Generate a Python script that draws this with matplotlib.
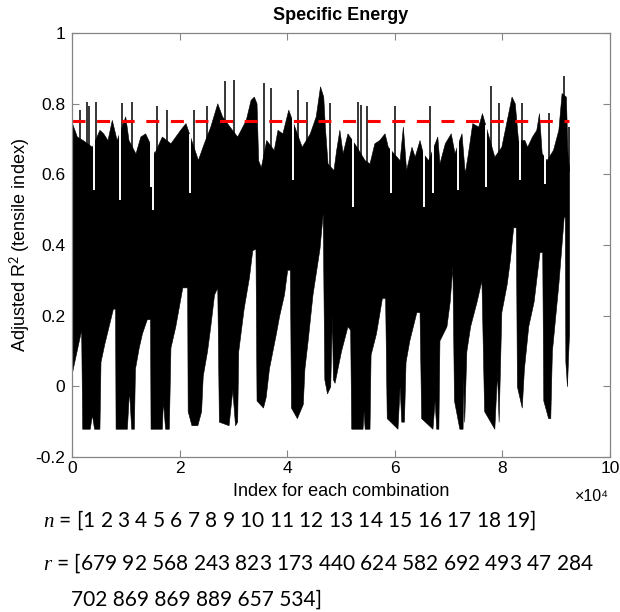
import numpy as np
import matplotlib
matplotlib.use("Agg")
import matplotlib.pyplot as plt
from matplotlib.ticker import FuncFormatter

plt.rcParams['font.family'] = ['Liberation Sans', 'DejaVu Sans']
plt.rcParams['mathtext.fontset'] = 'custom'
plt.rcParams['mathtext.it'] = 'Liberation Serif:italic'
plt.rcParams['mathtext.rm'] = 'Lato'

# index positions below are in units of 1e4 combinations
# upper edge of the dense band (spikes and slits kept apart)
upper_x = [0.00, 0.09, 0.20, 0.37, 0.51, 0.58, 0.66, 0.74, 0.83, 0.99, 1.05, 1.18,
           1.27, 1.36, 1.44, 1.53, 1.67, 1.83, 1.92, 2.01, 2.11, 2.34, 2.45, 2.57,
           2.70, 2.79, 2.93, 3.07, 3.23, 3.32, 3.38, 3.43, 3.46, 3.51, 3.61, 3.75,
           3.82, 3.91, 4.02, 4.27, 4.42, 4.53, 4.61, 4.67, 4.70, 4.75, 4.86, 4.91,
           4.97, 5.03, 5.12, 5.28, 5.44, 5.53, 5.62, 5.71, 5.81, 5.87, 6.09, 6.15,
           6.21, 6.31, 6.37, 6.46, 6.52, 6.62, 6.79, 6.83, 6.93, 7.04, 7.11, 7.24,
           7.30, 7.36, 7.44, 7.55, 7.62, 7.85, 7.98, 8.07, 8.17, 8.23, 8.29, 8.41,
           8.46, 8.55, 8.63, 8.68, 8.73, 8.82, 8.94, 9.04, 9.10, 9.18, 9.21, 9.24]
upper_y = [0.745, 0.707, 0.697, 0.678, 0.726, 0.716, 0.697, 0.754, 0.697, 0.764, 0.697, 0.659,
           0.707, 0.716, 0.690, 0.660, 0.707, 0.688, 0.707, 0.726, 0.745, 0.641, 0.688, 0.735,
           0.801, 0.764, 0.735, 0.707, 0.754, 0.811, 0.820, 0.801, 0.640, 0.620, 0.697, 0.669,
           0.726, 0.716, 0.783, 0.678, 0.716, 0.764, 0.849, 0.820, 0.735, 0.631, 0.612, 0.669,
           0.726, 0.660, 0.716, 0.680, 0.640, 0.631, 0.688, 0.697, 0.716, 0.678, 0.640, 0.735,
           0.612, 0.678, 0.650, 0.697, 0.660, 0.640, 0.707, 0.631, 0.688, 0.716, 0.660, 0.716,
           0.603, 0.660, 0.745, 0.735, 0.773, 0.650, 0.678, 0.745, 0.820, 0.801, 0.697, 0.697,
           0.678, 0.707, 0.726, 0.773, 0.660, 0.640, 0.669, 0.726, 0.830, 0.820, 0.660, 0.612]

# thin spikes sticking out of the band
spike_x = [0.14, 0.27, 0.32, 0.45, 0.93, 1.11, 1.58, 1.77, 2.26, 2.51, 2.85, 3.01, 3.56, 3.70,
           4.20, 4.37, 4.80, 5.31, 5.37, 5.48, 6.01, 6.65, 7.78, 7.94, 8.36, 8.87, 9.15, 9.23]
spike_top = [0.783, 0.806, 0.792, 0.806, 0.801, 0.806, 0.792, 0.783, 0.783, 0.792, 0.863, 0.868,
             0.858, 0.844, 0.839, 0.806, 0.801, 0.806, 0.796, 0.792, 0.792, 0.792, 0.849, 0.801,
             0.801, 0.773, 0.877, 0.735]

# narrow white slits cutting down into the band
dip_x = [0.40, 0.90, 1.46, 1.50, 2.20, 4.10, 5.22, 5.93, 6.55, 6.71, 7.18, 7.70, 8.33, 8.79]
dip_bottom = [0.555, 0.527, 0.565, 0.499, 0.546, 0.583, 0.508, 0.546, 0.508, 0.546, 0.555,
              0.565, 0.583, 0.574]

# lower edge of the band (sawtooth)
lower_x = [0.00, 0.17, 0.19, 0.33, 0.37, 0.41, 0.51, 0.53, 0.60, 0.68, 0.76, 0.80, 0.81, 1.02,
           1.06, 1.10, 1.15, 1.17, 1.24, 1.30, 1.39, 1.45, 1.46, 1.67, 1.69, 1.73, 1.80, 1.83,
           1.92, 2.05, 2.14, 2.15, 2.22, 2.33, 2.40, 2.43, 2.51, 2.57, 2.64, 2.70, 2.73, 2.91,
           2.98, 3.03, 3.07, 3.09, 3.19, 3.29, 3.35, 3.41, 3.43, 3.55, 3.60, 3.66, 3.79, 3.85,
           3.94, 4.00, 4.05, 4.07, 4.18, 4.29, 4.32, 4.38, 4.47, 4.60, 4.66, 4.69, 4.74, 4.80,
           4.83, 4.85, 4.88, 5.00, 5.12, 5.17, 5.19, 5.40, 5.42, 5.44, 5.53, 5.55, 5.65, 5.76,
           5.82, 5.85, 6.05, 6.09, 6.12, 6.17, 6.20, 6.27, 6.40, 6.46, 6.49, 6.70, 6.74, 6.77,
           6.81, 6.83, 6.96, 7.02, 7.07, 7.10, 7.20, 7.26, 7.27, 7.29, 7.33, 7.40, 7.52, 7.61,
           7.66, 7.85, 7.90, 7.93, 7.98, 8.08, 8.14, 8.20, 8.25, 8.27, 8.36, 8.40, 8.48, 8.58,
           8.69, 8.74, 8.76, 8.85, 8.89, 8.92, 9.04, 9.14, 9.16, 9.17, 9.20, 9.23, 9.24]
lower_y = [0.04, 0.16, -0.12, -0.12, -0.08, -0.12, -0.12, 0.07, 0.12, 0.17, 0.22, 0.22, -0.12, -0.12,
           -0.01, -0.12, -0.12, 0.05, 0.11, 0.15, 0.19, 0.19, -0.12, -0.12, -0.04, -0.12, -0.12, 0.11,
           0.17, 0.28, 0.28, -0.07, -0.11, -0.11, -0.07, 0.03, 0.10, 0.17, 0.26, 0.28, -0.10, -0.11,
           -0.01, -0.11, -0.10, 0.10, 0.22, 0.31, 0.385, 0.39, -0.04, -0.06, -0.03, 0.05, 0.15, 0.20,
           0.26, 0.33, 0.33, -0.06, -0.09, -0.05, 0.05, 0.13, 0.26, 0.39, 0.49, 0.02, -0.02, 0.00,
           0.20, 0.02, 0.01, 0.10, 0.17, 0.16, -0.12, -0.12, -0.07, -0.12, -0.12, 0.09, 0.15, 0.25,
           0.25, -0.09, -0.12, 0.00, -0.10, -0.10, 0.07, 0.13, 0.21, 0.21, -0.09, -0.12, -0.04, -0.12,
           -0.12, 0.13, 0.17, 0.24, 0.34, -0.04, -0.12, -0.12, 0.03, -0.10, 0.10, 0.17, 0.24, 0.30,
           -0.07, -0.12, 0.04, -0.10, 0.21, 0.29, 0.36, 0.45, 0.45, 0.00, -0.06, 0.05, 0.17, 0.24,
           0.38, 0.38, -0.04, -0.09, -0.09, 0.10, 0.29, 0.48, 0.48, 0.07, 0.00, 0.12, 0.15]

threshold = 0.75
n_combos = 92378

n_vals = list(range(1, 20))
r_vals = [679, 92, 568, 243, 823, 173, 440, 624, 582, 692, 493, 47, 284,
          702, 869, 869, 889, 657, 534]

fig = plt.figure(figsize=(6.2, 6.12), dpi=100)
ax = fig.add_axes([72 / 620, 1 - 457 / 612, 538 / 620, 424 / 612])

scale = 1e4
ux = np.array(upper_x) * scale
lx = np.array(lower_x) * scale
uy = np.array(upper_y)
ly = np.array(lower_y)

# common index grid for both edges of the band
grid = np.union1d(ux, lx)
top = np.interp(grid, ux, uy)
bot = np.interp(grid, lx, ly)
ax.fill_between(grid, bot, top, facecolor='black', edgecolor='black', lw=0.4, zorder=2)

sx = np.array(spike_x) * scale
ax.vlines(sx, np.interp(sx, ux, uy) - 0.02, spike_top, colors='black', lw=1.1, zorder=2)

dx = np.array(dip_x) * scale
ax.vlines(dx, dip_bottom, np.interp(dx, ux, uy) + 0.01, colors='white', lw=1.4, zorder=2.5)

ax.hlines(threshold, 0, n_combos, colors='red', linestyles=(0, (4.25, 3.8)),
          lw=2.2, zorder=3)

ax.set_xlim(0, 10 * scale)
ax.set_ylim(-0.2, 1)
ax.set_xticks(np.arange(0, 11, 2) * scale)
ax.set_yticks(np.round(np.arange(-0.2, 1.01, 0.2), 1))
ax.xaxis.set_major_formatter(FuncFormatter(lambda v, p: '%g' % (v / scale)))
ax.yaxis.set_major_formatter(FuncFormatter(lambda v, p: '%g' % v))

for s in ax.spines.values():
    s.set_color('#858585')
    s.set_linewidth(0.9)
    s.set_zorder(4)
ax.tick_params(direction='in', length=5, width=0.8, color='#858585',
               top=True, right=True, labelsize=12.5)
ax.tick_params(axis='x', pad=3)
ax.tick_params(axis='y', pad=5)

ax.set_title('Specific Energy', fontsize=13, fontweight='bold', pad=9)
ax.set_xlabel('Index for each combination', fontsize=13)
ax.xaxis.set_label_coords(0.5, -0.062)
ax.set_ylabel('Adjusted R$^2$ (tensile index)', fontsize=13)
ax.yaxis.set_label_coords(-0.073, 0.5)

fig.text(0.955, 0.189, '×10⁴', fontsize=11.5, ha='center', va='center')

n_line = '$n$ = [' + ' '.join(str(v) for v in n_vals) + ']'
r_line1 = '$r$ = [' + ' '.join(str(v) for v in r_vals[:13])
r_line2 = ' '.join(str(v) for v in r_vals[13:]) + ']'
fig.text(0.069, 0.150, n_line, fontsize=15, family=['Lato', 'DejaVu Sans'], ha='left', va='center')
fig.text(0.069, 0.080, r_line1, fontsize=15, family=['Lato', 'DejaVu Sans'], ha='left', va='center')
fig.text(0.115, 0.020, r_line2, fontsize=15, family=['Lato', 'DejaVu Sans'], ha='left', va='center')

fig.savefig('out.png', dpi=100)
